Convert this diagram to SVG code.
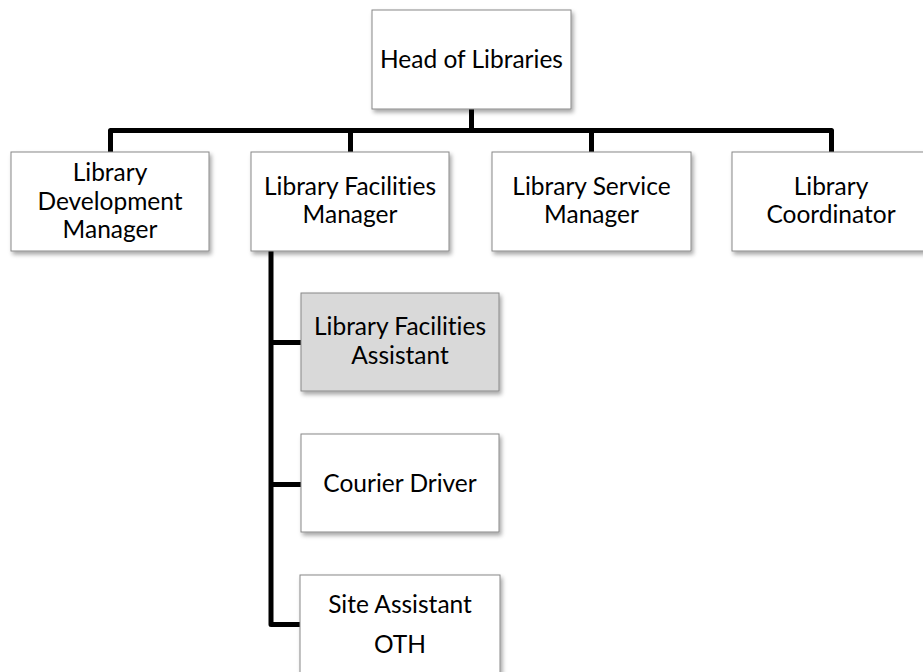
<svg xmlns="http://www.w3.org/2000/svg" width="923" height="672" viewBox="0 0 923 672">
<defs>
<filter id="sh" x="-10%" y="-10%" width="130%" height="140%">
<feDropShadow dx="2" dy="3" stdDeviation="2" flood-color="#000" flood-opacity="0.35"/>
</filter>
<style>
.box{fill:#fff;stroke:#888;stroke-width:1;filter:url(#sh)}
.gray{fill:#d9d9d9}
.t{font-family:Lato,"Open Sans","Liberation Sans",sans-serif;font-size:24.5px;fill:#000;text-anchor:middle;font-variant-ligatures:none;font-feature-settings:"liga" 0}
.c{fill:none;stroke:#000;stroke-width:5;stroke-linejoin:round;stroke-linecap:butt}
</style>
</defs>
<rect width="923" height="672" fill="#fff"/>
<g id="connectors">
<path class="c" d="M471.5 109 V130.5"/>
<path class="c" d="M110.5 152 V130.5 H831.5 V152"/>
<path class="c" d="M350.5 130.5 V152"/>
<path class="c" d="M591.5 130.5 V152"/>
<path class="c" d="M271 251 V624.5 H301"/>
<path class="c" d="M271 342.5 H301"/>
<path class="c" d="M271 484.5 H301"/>
</g>
<g id="head">
<rect class="box" x="372" y="10" width="199" height="99"/>
<text class="t" x="471.5" y="68">Head of Libraries</text>
</g>
<g id="dev">
<rect class="box" x="11" y="152" width="198" height="99"/>
<text class="t" x="110" y="181">Library</text>
<text class="t" x="110" y="210">Development</text>
<text class="t" x="110" y="238">Manager</text>
</g>
<g id="facilities">
<rect class="box" x="251" y="152" width="198" height="99"/>
<text class="t" x="350" y="195">Library Facilities</text>
<text class="t" x="350" y="223">Manager</text>
</g>
<g id="service">
<rect class="box" x="492" y="152" width="199" height="99"/>
<text class="t" x="591.5" y="195">Library Service</text>
<text class="t" x="591.5" y="223">Manager</text>
</g>
<g id="coordinator">
<rect class="box" x="732" y="152" width="198" height="99"/>
<text class="t" x="831" y="195">Library</text>
<text class="t" x="831" y="223">Coordinator</text>
</g>
<g id="fac-assistant">
<rect class="box gray" x="301" y="293" width="198" height="98"/>
<text class="t" x="400" y="335">Library Facilities</text>
<text class="t" x="400" y="364">Assistant</text>
</g>
<g id="courier">
<rect class="box" x="301" y="434" width="198" height="98"/>
<text class="t" x="400" y="492">Courier Driver</text>
</g>
<g id="site">
<rect class="box" x="300" y="575" width="200" height="110"/>
<text class="t" x="400" y="613">Site Assistant</text>
<text class="t" x="400" y="653">OTH</text>
</g>
</svg>
